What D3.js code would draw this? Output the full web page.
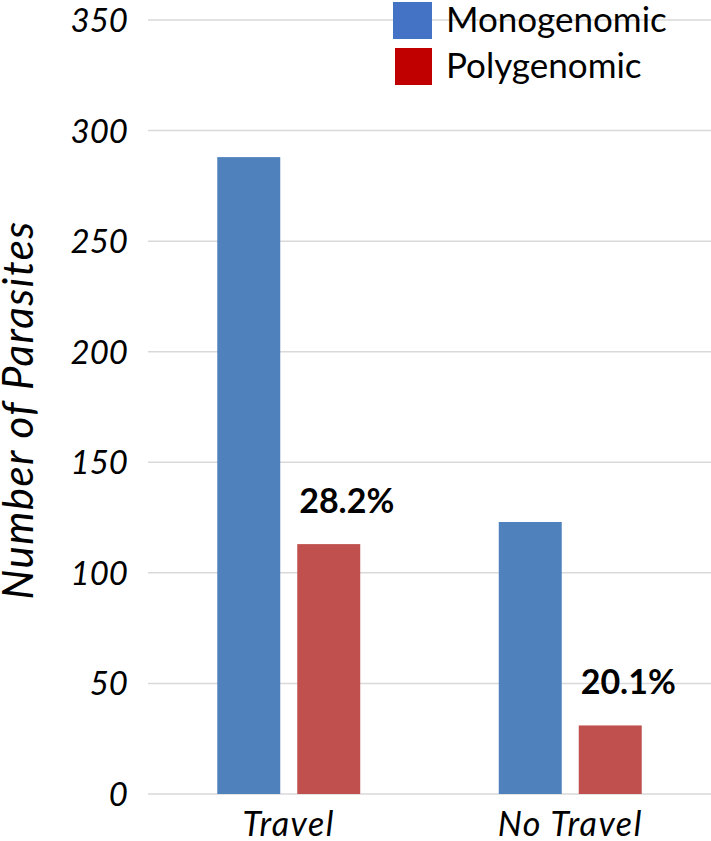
<!DOCTYPE html>
<html>
<head>
<meta charset="utf-8">
<script src="https://cdn.jsdelivr.net/npm/d3@7"></script>
<style>
  body { margin: 0; background: #fff; }
  text { font-family: Lato, "Open Sans", sans-serif; fill: #000; }
</style>
</head>
<body>
<div id="root"></div>
<script>
// Data
const categories = ['Travel', 'No Travel'];
const seriesNames = ['Monogenomic', 'Polygenomic'];
const monogenomic = [288, 123];
const polygenomic = [113, 31];
const percentLabels = ['28.2%', '20.1%'];
const yTicks = [0, 50, 100, 150, 200, 250, 300, 350];

// Layout
const width = 711;
const height = 841;
const plotLeft = 148;
const plotRight = 711;
const plotTop = 20;
const plotBottom = 794;

const barColors = ['#4f81bd', '#c0504d'];
const legendColors = ['#4472c4', '#c00000'];

const svg = d3.select('#root')
  .append('svg')
  .attr('width', width)
  .attr('height', height);

const y = d3.scaleLinear()
  .domain([0, 350])
  .range([plotBottom, plotTop]);

const x0 = d3.scaleBand()
  .domain(categories)
  .range([plotLeft, plotRight]);

const x1 = d3.scaleBand()
  .domain(seriesNames)
  .range([0, x0.bandwidth()])
  .paddingInner(0.2125)
  .paddingOuter(0.866);

// Gridlines
svg.append('g')
  .selectAll('line')
  .data(yTicks)
  .enter()
    .append('line')
    .attr('x1', plotLeft)
    .attr('x2', plotRight)
    .attr('y1', d => y(d))
    .attr('y2', d => y(d))
    .attr('stroke', '#d9d9d9')
    .attr('stroke-width', 1.5);

// Y tick labels
svg.append('g')
  .selectAll('text')
  .data(yTicks)
  .enter()
    .append('text')
    .attr('x', 128)
    .attr('y', d => y(d) + 12)
    .attr('text-anchor', 'end')
    .style('font-size', '33px')
    .style('font-style', 'italic')
    .text(d => d);

// Y axis title
svg.append('text')
  .attr('transform', `translate(33, ${(plotTop + plotBottom) / 2 + 3}) rotate(-90)`)
  .attr('text-anchor', 'middle')
  .style('font-size', '42px')
  .style('font-style', 'italic')
  .style('letter-spacing', '1.5px')
  .text('Number of Parasites');

// Bars
const rows = categories.map((c, i) => ({
  category: c,
  values: [monogenomic[i], polygenomic[i]],
  label: percentLabels[i]
}));

const groups = svg.append('g')
  .selectAll('g')
  .data(rows)
  .enter()
    .append('g')
    .attr('transform', d => `translate(${x0(d.category)},0)`);

groups.selectAll('rect')
  .data(d => d.values.map((v, j) => ({series: seriesNames[j], value: v, j})))
  .enter()
    .append('rect')
    .attr('x', d => x1(d.series))
    .attr('y', d => y(d.value))
    .attr('width', x1.bandwidth())
    .attr('height', d => y(0) - y(d.value))
    .attr('fill', d => barColors[d.j]);

// Percentage labels over the red bars
groups.append('text')
  .attr('x', d => x1('Polygenomic') + x1.bandwidth() / 2 + 18)
  .attr('y', d => y(d.values[1]) - 31)
  .attr('text-anchor', 'middle')
  .style('font-size', '34px')
  .style('font-weight', 'bold')
  .text(d => d.label);

// Category labels
svg.append('g')
  .selectAll('text')
  .data(categories)
  .enter()
    .append('text')
    .attr('x', d => x0(d) + x0.bandwidth() / 2)
    .attr('y', 836)
    .attr('text-anchor', 'middle')
    .style('font-size', '34px')
    .style('font-style', 'italic')
    .style('letter-spacing', '1.5px')
    .text(d => d);

// Legend
const legend = svg.append('g')
  .selectAll('g')
  .data(seriesNames)
  .enter()
    .append('g')
    .attr('transform', (d, i) => `translate(393, ${2 + i * 46})`);

legend.append('rect')
  .attr('x', (d, i) => i * 2)
  .attr('width', (d, i) => 39 - i * 2)
  .attr('height', 37)
  .attr('fill', (d, i) => legendColors[i]);

legend.append('text')
  .attr('x', 53)
  .attr('y', 30)
  .style('font-size', '35px')
  .text(d => d);
</script>
</body>
</html>
